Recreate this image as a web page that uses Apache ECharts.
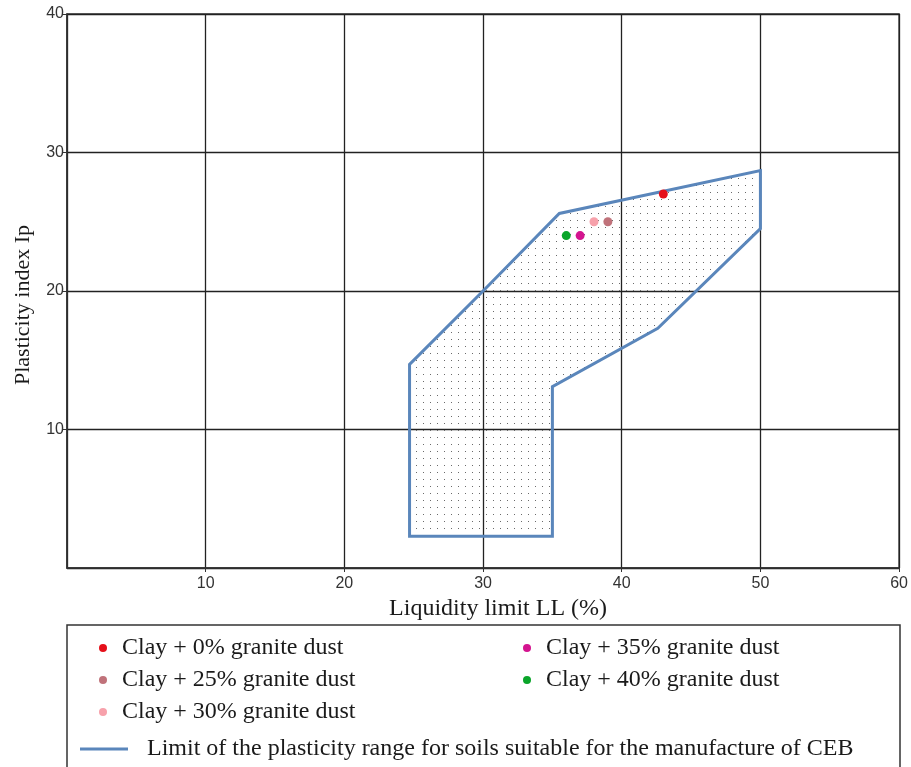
<!DOCTYPE html>
<html>
<head>
<meta charset="utf-8">
<style>
  html, body { margin: 0; padding: 0; background: #fff; }
  #chart { width: 911px; height: 767px; }
</style>
<script src="https://cdn.jsdelivr.net/npm/echarts@6/dist/echarts.min.js"></script>
</head>
<body>
<div id="chart"></div>
<script>
// soil samples (LL, Ip)
const sampleNames = [
  "Clay + 0% granite dust",
  "Clay + 25% granite dust",
  "Clay + 30% granite dust",
  "Clay + 35% granite dust",
  "Clay + 40% granite dust"
];
const sampleLL = [43, 39, 38, 37, 36];
const sampleIp = [27, 25, 25, 24, 24];
const sampleColors = ["#e5101a", "#c0727a", "#f7a1ab", "#d4148f", "#0aa52a"];

// CEB suitability zone outline
const zoneName = "Limit of the plasticity range for soils suitable for the manufacture of CEB";
const zoneLL = [24.7, 24.7, 35.0, 35.0, 42.6, 50.0, 50.0, 35.5, 30.0];
const zoneIp = [14.7, 2.3, 2.3, 13.1, 17.3, 24.5, 28.7, 25.6, 20.0];

const xTicks = [0, 10, 20, 30, 40, 50, 60];
const yTicks = [0, 10, 20, 30, 40];

const lineColor = "#5a86bb";
const serif = "Liberation Serif";
const sans = "Liberation Sans";

// dotted fill for the zone
const dots = document.createElement("canvas");
dots.width = 7;
dots.height = 7;
const dctx = dots.getContext("2d");
dctx.fillStyle = "#6a6a6a";
dctx.fillRect(3, 3, 1, 1);

const chart = echarts.init(document.getElementById("chart"));

const scatterSeries = sampleNames.map((name, i) => ({
  name: name,
  type: "scatter",
  data: [[sampleLL[i], sampleIp[i]]],
  symbol: "circle",
  symbolSize: 9,
  itemStyle: { color: sampleColors[i], opacity: 1 },
  z: 5
}));

const legendText = { fontFamily: serif, fontSize: 24, color: "#1a1a1a", lineHeight: 24 };

const option = {
  animation: false,
  grid: {
    left: 67, right: 11, top: 14, bottom: 199,
    show: true, borderColor: "#333", borderWidth: 1.5
  },
  xAxis: {
    type: "value",
    min: xTicks[0], max: xTicks[xTicks.length - 1], interval: 10,
    name: "Liquidity limit LL (%)",
    nameLocation: "middle",
    nameGap: 25,
    nameTextStyle: { fontFamily: serif, fontSize: 24, color: "#1a1a1a", padding: [0, 0, 0, 30] },
    axisLine: { show: true, lineStyle: { color: "#333", width: 1.5 } },
    axisTick: { show: true, length: 4, lineStyle: { color: "#333" } },
    axisLabel: { showMinLabel: false, fontFamily: sans, fontSize: 16, color: "#333", margin: 8 },
    splitLine: { show: true, lineStyle: { color: "#222", width: 1.3 } }
  },
  yAxis: {
    type: "value",
    min: yTicks[0], max: yTicks[yTicks.length - 1], interval: 10,
    name: "Plasticity index Ip",
    nameLocation: "middle",
    nameGap: 33,
    nameTextStyle: { fontFamily: serif, fontSize: 22, color: "#1a1a1a", padding: [0, 28, 0, 0] },
    axisLine: { show: true, lineStyle: { color: "#333", width: 1.5 } },
    axisTick: { show: true, length: 4, lineStyle: { color: "#333" } },
    axisLabel: { showMinLabel: false, fontFamily: sans, fontSize: 16, color: "#333", margin: 3 },
    splitLine: { show: true, lineStyle: { color: "#222", width: 1.3 } }
  },
  legend: [
    {
      data: sampleNames.slice(0, 3).map(n => ({ name: n, icon: "circle" })),
      orient: "vertical", left: 94, top: 631,
      itemWidth: 28, itemHeight: 8, itemGap: 8,
      textStyle: legendText
    },
    {
      data: sampleNames.slice(3).map(n => ({ name: n, icon: "circle" })),
      orient: "vertical", left: 518, top: 631,
      itemWidth: 28, itemHeight: 8, itemGap: 8,
      textStyle: legendText
    },
    {
      data: [{ name: zoneName, icon: "rect", itemStyle: { color: lineColor } }],
      left: 75, top: 732,
      itemWidth: 48, itemHeight: 3,
      textStyle: Object.assign({}, legendText, { padding: [0, 0, 0, 14] })
    }
  ],
  graphic: [
    {
      type: "rect",
      shape: { x: 67, y: 625, width: 833, height: 160 },
      style: { fill: "none", stroke: "#333", lineWidth: 1.5 },
      silent: true
    }
  ],
  series: [
    {
      name: zoneName,
      type: "custom",
      data: [[0]],
      itemStyle: { color: lineColor },
      z: 3,
      renderItem: function (params, api) {
        const pts = zoneLL.map((v, i) => api.coord([v, zoneIp[i]]));
        return {
          type: "polygon",
          shape: { points: pts },
          style: {
            fill: { image: dots, repeat: "repeat" },
            stroke: lineColor,
            lineWidth: 3,
            lineJoin: "miter"
          }
        };
      }
    }
  ].concat(scatterSeries)
};

chart.setOption(option);
window.addEventListener("resize", () => chart.resize());
</script>
</body>
</html>
